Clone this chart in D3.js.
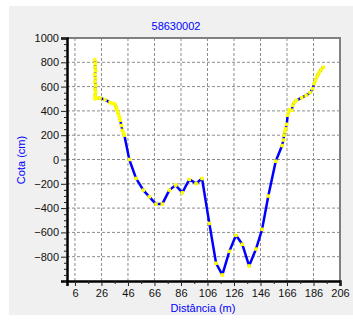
<!DOCTYPE html>
<html>
<head>
<meta charset="utf-8">
<script src="https://cdn.jsdelivr.net/npm/d3@7"></script>
<style>
body { margin: 0; background: #fff; }
text { font-family: "Liberation Sans", Arial, sans-serif; }
</style>
</head>
<body>
<div id="chart"></div>
<script>
// perfil da secao 58630002
var titulo = "58630002";
var distancia = [21.0, 21.4, 21.1, 21.6, 20.9, 21.5, 21.0, 21.7, 21.1, 21.6, 21.0, 21.4, 21.2, 22.5, 24.9, 28.7, 32.5, 34.5, 36.2,
    37.0, 37.6, 38.2, 39.0, 39.6, 40.2, 41.0, 41.8, 42.6, 43.3,
    47.0, 52.1, 57.6, 62.1, 67.2, 71.9, 77.2, 82.0, 87.0, 92.3, 97.4, 101.9, 107.4, 112.5, 117.2, 122.5, 127.5, 132.3, 137.4,
    142.6, 147.2, 151.9, 157.5, 162.3, 163.3, 163.8, 164.4, 165.0, 165.8, 166.5, 167.2, 167.8, 169.6, 170.3, 171.5, 173.3,
    177.1, 180.4, 183.4, 185.4, 186.4, 187.4, 188.4, 189.4, 190.4, 191.8, 193.4];
var cota = [820, 790, 760, 730, 700, 670, 640, 610, 580, 555, 530, 515, 500, 504, 506, 493, 468, 462, 454,
    430, 410, 390, 365, 345, 323, 280, 240, 220, 200,
    0, -156, -252, -307, -367, -367, -252, -211, -274, -164, -197, -156, -526, -854, -950, -756, -624, -698, -876,
    -737, -575, -301, -14, 115, 160, 200, 230, 254, 290, 364, 390, 410, 405, 446, 470, 487,
    509, 528, 550, 583, 624, 650, 678, 700, 719, 740, 760];
var xTicks = [6, 26, 46, 66, 86, 106, 126, 146, 166, 186, 206];
var yTicks = [-800, -600, -400, -200, 0, 200, 400, 600, 800, 1000];

var W = 353, H = 329;
var margin = { top: 38, right: 13, bottom: 48, left: 67 };
var width = W - margin.left - margin.right;
var height = H - margin.top - margin.bottom;

var svg = d3.select('#chart').append('svg')
    .attr("width", W)
    .attr("height", H);

// fundo cinza
svg.append("rect")
    .attr("x", 9).attr("y", 6)
    .attr("width", W - 9).attr("height", 309)
    .attr("fill", "#f0f0f0");

var g = svg.append("g")
    .attr("transform", "translate(" + margin.left + "," + margin.top + ")");

g.append("rect")
    .attr("width", width).attr("height", height)
    .attr("fill", "#fff");

var x = d3.scaleLinear().domain([0, 206]).range([0, width]);
var y = d3.scaleLinear().domain([-1000, 1000]).range([height, 0]);

// grade tracejada
g.selectAll(".gx").data(xTicks.slice(0, -1)).enter().append("line")
    .attr("x1", function(d) { return x(d); })
    .attr("x2", function(d) { return x(d); })
    .attr("y1", 0).attr("y2", height)
    .attr("stroke", "#8c8c8c").attr("stroke-dasharray", "3,2");
g.selectAll(".gy").data(yTicks.slice(0, -1)).enter().append("line")
    .attr("y1", function(d) { return y(d); })
    .attr("y2", function(d) { return y(d); })
    .attr("x1", 0).attr("x2", width)
    .attr("stroke", "#8c8c8c").attr("stroke-dasharray", "3,2");

// borda superior e direita
g.append("path")
    .attr("d", "M0,0H" + width + "V" + height)
    .attr("fill", "none").attr("stroke", "#808080").attr("stroke-width", 2);

// eixo y
var yAxis = g.append("g")
    .call(d3.axisLeft(y).tickValues(yTicks).tickSize(6).tickPadding(2).tickFormat(d3.format("d")));
g.append("g")
    .call(d3.axisLeft(y).tickValues(d3.range(-1000, 1001, 50).filter(function(d) { return d % 200 != 0 || d == -1000; }))
        .tickSize(3).tickFormat(""))
    .select(".domain").remove();

// eixo x
var xAxis = g.append("g")
    .attr("transform", "translate(0," + height + ")")
    .call(d3.axisBottom(x).tickValues(xTicks).tickSize(5).tickPadding(3));
g.append("g")
    .attr("transform", "translate(0," + height + ")")
    .call(d3.axisBottom(x).tickValues(d3.range(16, 200, 20)).tickSize(3).tickFormat(""))
    .select(".domain").remove();

g.selectAll(".tick line").attr("stroke", "#222");
g.selectAll(".tick text").attr("font-size", 11).attr("fill", "#111")
    .attr("font-family", "Liberation Sans, Arial, sans-serif");
yAxis.select(".domain").attr("stroke", "#000").attr("stroke-width", 2.5);
xAxis.select(".domain").attr("stroke", "#000").attr("stroke-width", 2.5);

// perfil
var pts = distancia.map(function(d, i) { return [d, cota[i]]; });
var line = d3.line()
    .x(function(d) { return x(d[0]); })
    .y(function(d) { return y(d[1]); });

g.append("path")
    .datum(pts)
    .attr("d", line)
    .attr("fill", "none")
    .attr("stroke", "#0000ff")
    .attr("stroke-width", 2.5)
    .attr("stroke-linejoin", "round");

g.selectAll(".pt").data(pts).enter().append("rect")
    .attr("x", function(d) { return x(d[0]) - 1.75; })
    .attr("y", function(d) { return y(d[1]) - 1.75; })
    .attr("width", 3.5).attr("height", 3.5)
    .attr("fill", "#ffff00");

// textos
svg.append("text")
    .attr("x", 176).attr("y", 30)
    .attr("text-anchor", "middle")
    .attr("font-size", 11).attr("fill", "#0000ff")
    .text(titulo);
svg.append("text")
    .attr("x", 203).attr("y", 312)
    .attr("text-anchor", "middle")
    .attr("font-size", 11).attr("fill", "#0000ff")
    .text("Distância (m)");
svg.append("text")
    .attr("transform", "translate(25,160) rotate(-90)")
    .attr("text-anchor", "middle")
    .attr("font-size", 11).attr("fill", "#0000ff")
    .text("Cota (cm)");
</script>
</body>
</html>
